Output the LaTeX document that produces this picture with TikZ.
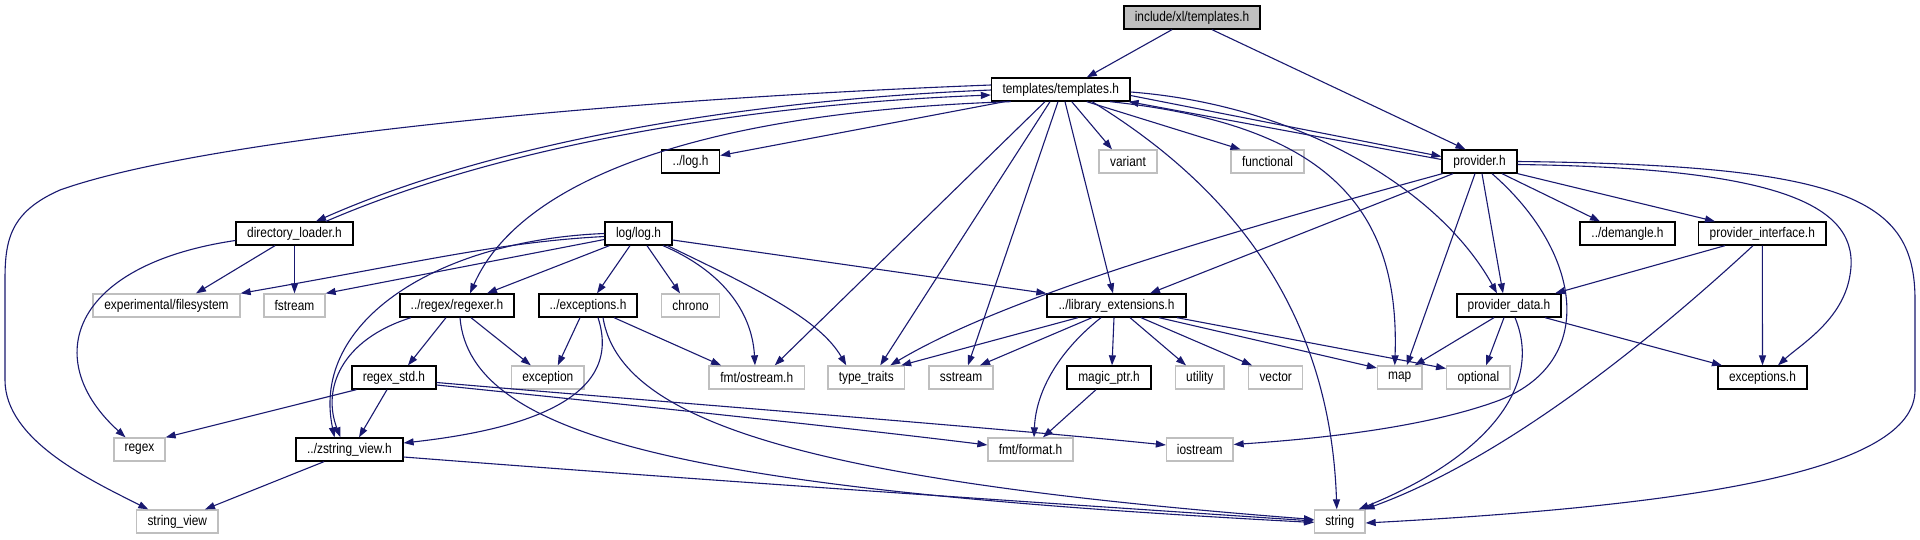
\documentclass[tikz,border=0pt]{standalone}
\usepackage{fontspec}
\setmainfont{Liberation Sans}[FakeStretch=0.85]
\usetikzlibrary{arrows.meta}
\definecolor{navy}{RGB}{25,25,112}
\definecolor{grayb}{RGB}{191,191,191}
\begin{document}
\begin{tikzpicture}[x=1pt,y=-1pt,
  base/.style={rectangle, minimum height=23pt, inner sep=0pt, font=\fontsize{14}{16}\selectfont},
  bx/.style={base, draw=black, line width=1.3pt, fill=white},
  gx/.style={base, draw=grayb, line width=1.3pt, fill=white},
  hx/.style={base, draw=black, line width=1.3pt, fill=grayb},
  edg/.style={draw=navy, line width=1.1pt, -{Triangle[length=10pt,width=7pt]}}]
\fill[white] (0,0) rectangle (1920,539);
\useasboundingbox (0,0) rectangle (1920,539);
% nodes
\node[hx, minimum width=136pt] (inc) at (1192,17.5) {include/xl/templates.h};
\node[bx, minimum width=138.5pt] (tpl) at (1060.75,89.5) {templates/templates.h};
\node[bx, minimum width=58pt] (log) at (690.6,161.5) {../log.h};
\node[gx, minimum width=58pt] (variant) at (1128,161.5) {variant};
\node[gx, minimum width=73pt] (functional) at (1267.5,161.5) {functional};
\node[bx, minimum width=75pt] (prov) at (1479.5,161.5) {provider.h};
\node[bx, minimum width=117pt] (dirl) at (294.5,233.5) {directory\_loader.h};
\node[bx, minimum width=67pt] (loglog) at (638.5,233.5) {log/log.h};
\node[bx, minimum width=95pt] (demangle) at (1627.5,233.5) {../demangle.h};
\node[bx, minimum width=127.4pt] (provint) at (1762.3,233.5) {provider\_interface.h};
\node[gx, minimum width=147pt] (expfs) at (166.5,305.5) {experimental/filesystem};
\node[gx, minimum width=61pt] (fstream) at (294.5,305.5) {fstream};
\node[bx, minimum width=114pt] (regexer) at (457,305.5) {../regex/regexer.h};
\node[bx, minimum width=98pt] (exc) at (588,305.5) {../exceptions.h};
\node[gx, minimum width=58pt] (chrono) at (690.6,305.5) {chrono};
\node[bx, minimum width=139pt] (libext) at (1116.5,305.5) {../library\_extensions.h};
\node[bx, minimum width=104pt] (provdata) at (1509,305.5) {provider\_data.h};
\node[bx, minimum width=84pt] (regexstd) at (394,377.5) {regex\_std.h};
\node[gx, minimum width=72.4pt] (exception) at (547.8,377.5) {exception};
\node[gx, minimum width=95.5pt] (ostream) at (756.75,377.5) {fmt/ostream.h};
\node[gx, minimum width=76.5pt] (typetraits) at (866.25,377.5) {type\_traits};
\node[gx, minimum width=64pt] (sstream) at (961,377.5) {sstream};
\node[bx, minimum width=84pt] (magic) at (1109,377.5) {magic\_ptr.h};
\node[gx, minimum width=48.5pt] (utility) at (1199.75,377.5) {utility};
\node[gx, minimum width=54pt] (vector) at (1275.7,377.5) {vector};
\node[gx, minimum width=44.5pt] (map) at (1399.75,377.5) {map};
\node[gx, minimum width=63.3pt] (optional) at (1478.35,377.5) {optional};
\node[bx, minimum width=89pt] (excs) at (1762.5,377.5) {exceptions.h};
\node[gx, minimum width=51pt] (regex) at (139.5,449.5) {regex};
\node[bx, minimum width=107pt] (zsv) at (349.5,449.5) {../zstring\_view.h};
\node[gx, minimum width=85pt] (format) at (1030.5,449.5) {fmt/format.h};
\node[gx, minimum width=66.5pt] (iostream) at (1199.75,449.5) {iostream};
\node[gx, minimum width=81.4pt] (sv) at (177.3,521.5) {string\_view};
\node[gx, minimum width=50.4pt] (string) at (1339.8,521.5) {string};
% edges
\draw[edg] ([xshift=-20pt]inc.south) -- ([xshift=26pt]tpl.north);
\draw[edg] ([xshift=20pt]inc.south) -- ([xshift=-14pt]prov.north);
\draw[edg] ([xshift=-56pt]tpl.south) -- ([yshift=6pt]log.east);
\draw[edg] ([xshift=11pt]tpl.south) -- ([xshift=-16pt]variant.north);
\draw[edg] ([xshift=26pt]tpl.south) -- ([xshift=-27pt]functional.north);
\draw[edg] ([yshift=4.5pt]tpl.west) .. controls (600,100) and (200,140) .. (60,190) .. controls (10,212) and (5,240) .. (5,280) -- (5,380) .. controls (5,440) and (90,480) .. ([xshift=-29pt]sv.north);
\draw[edg] ([yshift=-0.5pt]tpl.west) .. controls (750,100) and (500,140) .. ([xshift=21.5pt]dirl.north);
\draw[edg] ([xshift=31.5pt]dirl.north) .. controls (510,142) and (760,104) .. ([yshift=-5.5pt]tpl.west);
\draw[edg] ([xshift=-50pt]tpl.south) .. controls (700,112) and (520,180) .. ([xshift=13pt]regexer.north);
\draw[edg] ([xshift=-15.75pt]tpl.south) -- ([xshift=18pt]ostream.north);
\draw[edg] ([xshift=-10.75pt]tpl.south) -- ([xshift=14pt]typetraits.north);
\draw[edg] ([xshift=-2.75pt]tpl.south) -- ([xshift=7pt]sstream.north);
\draw[edg] ([xshift=4.25pt]tpl.south) -- ([xshift=-3.5pt]libext.north);
\draw[edg] ([xshift=31.25pt]tpl.south) .. controls (1220,180) and (1330,300) .. ([xshift=-3pt]string.north);
\draw[edg] ([xshift=49.25pt]tpl.south) .. controls (1330,125) and (1400,210) .. ([xshift=-5pt]map.north);
\draw[edg] ([yshift=-2.5pt]tpl.east) .. controls (1300,105) and (1440,190) .. ([xshift=-12pt]provdata.north);
\draw[edg] ([yshift=-6pt]tpl.east) -- ([yshift=5pt]prov.west);
\draw[edg] ([yshift=2pt]prov.west) -- ([xshift=-2pt]tpl.south east);
\draw[edg] ([xshift=-26.5pt]prov.south) -- ([xshift=33.5pt]libext.north);
\draw[edg] ([xshift=1pt]prov.south west) .. controls (1200,240) and (1000,300) .. ([xshift=24pt]typetraits.north);
\draw[edg] ([xshift=-4.5pt]prov.south) -- ([xshift=7pt]map.north);
\draw[edg] ([xshift=2.5pt]prov.south) -- ([xshift=-6pt]provdata.north);
\draw[edg] ([xshift=12.5pt]prov.south) .. controls (1580,250) and (1600,360) .. (1500,400) .. controls (1420,430) and (1300,440) .. ([yshift=5pt]iostream.east);
\draw[edg] ([xshift=22.5pt]prov.south) -- ([xshift=-27.5pt]demangle.north);
\draw[edg] (prov.south east) -- ([xshift=-47.3pt]provint.north);
\draw[edg] ([yshift=-3pt]prov.east) .. controls (1780,168) and (1862,205) .. (1850,275) .. controls (1843,320) and (1800,345) .. ([xshift=15.5pt]excs.north);
\draw[edg] (prov.east) .. controls (1850,165) and (1915,200) .. (1915,300) -- (1915,390) .. controls (1915,470) and (1700,505) .. ([yshift=-1.5pt]string.east);
\draw[edg] ([xshift=-37.3pt]provint.south) -- ([xshift=46pt]provdata.north);
\draw[edg] ([xshift=-9.3pt]provint.south) .. controls (1640,350) and (1500,460) .. ([xshift=-1pt]string.north east);
\draw[edg] (provint.south) -- (excs.north);
\draw[edg] ([xshift=-15pt]provdata.south) -- ([xshift=15pt]map.north);
\draw[edg] ([xshift=-5pt]provdata.south) -- ([xshift=7.65pt]optional.north);
\draw[edg] ([xshift=6pt]provdata.south) .. controls (1545,390) and (1480,460) .. ([xshift=-7pt]string.north east);
\draw[edg] ([xshift=36pt]provdata.south) -- ([xshift=-40.5pt]excs.north);
\draw[edg] ([xshift=-38.5pt]libext.south) -- ([xshift=-4pt]typetraits.north east);
\draw[edg] ([xshift=-24.5pt]libext.south) -- ([xshift=19pt]sstream.north);
\draw[edg] ([xshift=-15.5pt]libext.south) .. controls (1060,350) and (1036,390) .. ([xshift=3.5pt]format.north);
\draw[edg] ([xshift=-2.5pt]libext.south) -- ([xshift=3pt]magic.north);
\draw[edg] ([xshift=13.5pt]libext.south) -- ([xshift=-13.75pt]utility.north);
\draw[edg] ([xshift=24.5pt]libext.south) -- ([xshift=-23.7pt]vector.north);
\draw[edg] ([xshift=42.5pt]libext.south) -- ([yshift=9.5pt]map.west);
\draw[edg] ([xshift=60.5pt]libext.south) -- ([yshift=9pt]optional.west);
\draw[edg] ([xshift=-13pt]magic.south) -- ([xshift=12.5pt]format.north);
\draw[edg] ([yshift=-6.5pt]loglog.east) -- (libext.north west);
\draw[edg] ([yshift=-3pt]loglog.west) .. controls (500,242) and (420,262) .. (expfs.north east);
\draw[edg] ([yshift=-6pt]loglog.west) -- (fstream.north east);
\draw[edg] (loglog.west) .. controls (440,240) and (310,320) .. ([xshift=-15pt]zsv.north);
\draw[edg] ([xshift=5pt]loglog.south west) -- ([xshift=30pt]regexer.north);
\draw[edg] ([xshift=-8.5pt]loglog.south) -- ([xshift=9pt]exc.north);
\draw[edg] ([xshift=8.5pt]loglog.south) -- ([xshift=-10.6pt]chrono.north);
\draw[edg] ([xshift=24.5pt]loglog.south) .. controls (720,270) and (752,310) .. ([xshift=-1.75pt]ostream.north);
\draw[edg] ([xshift=29pt]loglog.south) .. controls (760,290) and (820,320) .. ([xshift=-20pt]typetraits.north);
\draw[edg] ([xshift=-19.5pt]dirl.south) -- ([xshift=29.5pt]expfs.north);
\draw[edg] (dirl.south) -- (fstream.north);
\draw[edg] ([yshift=-7pt]dirl.west) .. controls (70,265) and (40,360) .. ([xshift=-14pt]regex.north);
\draw[edg] ([xshift=-11pt]regexer.south) -- ([xshift=14pt]regexstd.north);
\draw[edg] ([xshift=14pt]regexer.south) -- ([xshift=-17pt]exception.north);
\draw[edg] ([xshift=-46pt]regexer.south) .. controls (340,340) and (322,390) .. ([xshift=-9pt]zsv.north);
\draw[edg] ([xshift=3pt]regexer.south) .. controls (470,440) and (700,490) .. ([yshift=-1pt]string.west);
\draw[edg] ([xshift=-8pt]exc.south) -- ([xshift=10pt]exception.north);
\draw[edg] ([xshift=26pt]exc.south) -- ([xshift=-35.75pt]ostream.north);
\draw[edg] ([xshift=10pt]exc.south) .. controls (625,400) and (520,430) .. ([yshift=6.5pt]zsv.east);
\draw[edg] ([xshift=15pt]exc.south) .. controls (620,420) and (800,480) .. ([yshift=2pt]string.west);
\draw[edg] ([xshift=5pt]regexstd.south west) -- (regex.north east);
\draw[edg] ([xshift=-7pt]regexstd.south) -- ([xshift=9.5pt]zsv.north);
\draw[edg] ([yshift=-7.5pt]regexstd.east) .. controls (650,407) and (850,428) .. ([yshift=4.5pt]format.west);
\draw[edg] ([yshift=-5pt]regexstd.east) .. controls (700,405) and (1000,428) .. ([yshift=4.5pt]iostream.west);
\draw[edg] ([xshift=-25.5pt]zsv.south) -- ([xshift=27.7pt]sv.north);
\draw[edg] ([yshift=-7.5pt]zsv.east) .. controls (700,480) and (1000,500) .. ([yshift=0.5pt]string.west);
\end{tikzpicture}
\end{document}
